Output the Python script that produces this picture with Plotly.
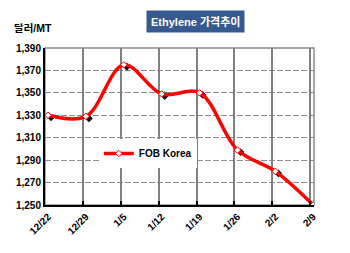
import plotly.graph_objects as go

categories = ["12/22", "12/29", "1/5", "1/12", "1/19", "1/26", "2/2", "2/9"]
fob_korea = [1330, 1329, 1375, 1349, 1350, 1299, 1280, 1250]
y_ticks = [1250, 1270, 1290, 1310, 1330, 1350, 1370, 1390]

FONT = "Liberation Sans, Arial, Noto Sans CJK KR"
xpos = list(range(len(categories)))
x_lo, x_hi = -0.08, len(categories) - 1 + 0.02
y_lo, y_hi = y_ticks[0], y_ticks[-1]
grid_pos = [x_lo + i for i in range(1, len(categories))]

fig = go.Figure()

# dummy traces for main and gridline axes
fig.add_trace(go.Scatter(x=[x_lo], y=[y_lo], mode="markers", marker=dict(opacity=0),
                         xaxis="x", yaxis="y", showlegend=False, hoverinfo="skip"))
fig.add_trace(go.Scatter(x=[x_lo], y=[y_lo], mode="markers", marker=dict(opacity=0),
                         xaxis="x2", yaxis="y", showlegend=False, hoverinfo="skip"))
# dark marker shadow series (slightly offset, under the line)
fig.add_trace(go.Scatter(
    x=xpos, y=fob_korea, mode="markers", showlegend=False,
    marker=dict(symbol="diamond", size=6, color="#111111"),
    xaxis="x3", yaxis="y3",
))
# red line series
fig.add_trace(go.Scatter(
    x=xpos, y=fob_korea, name="FOB Korea", mode="lines+markers",
    line=dict(color="#ff0000", width=3.5, shape="spline", smoothing=1.0),
    marker=dict(symbol="diamond", size=5, color="white", line=dict(color="#ff0000", width=1)),
    xaxis="x4", yaxis="y4", showlegend=True,
))

fig.update_layout(
    width=350, height=253,
    margin=dict(l=45, r=36, t=48, b=48),
    paper_bgcolor="white", plot_bgcolor="white",
    font=dict(family=FONT, size=10, color="black"),
    xaxis=dict(range=[x_lo, x_hi], tickvals=xpos, ticktext=categories, tickangle=-45,
               showgrid=False, zeroline=False, showline=True, linecolor="black", linewidth=2,
               ticks="", tickfont=dict(family=FONT, size=10, weight="bold")),
    xaxis2=dict(overlaying="x", range=[x_lo, x_hi], tickvals=grid_pos, showticklabels=False,
                showgrid=True, gridcolor="#808080", gridwidth=1.5, zeroline=False,
                ticks="inside", ticklen=4, tickcolor="black", tickwidth=1.5, anchor="y"),
    xaxis3=dict(overlaying="x", range=[x_lo - 0.08, x_hi - 0.08], visible=False, anchor="y3"),
    xaxis4=dict(overlaying="x", range=[x_lo, x_hi], visible=False, anchor="y4"),
    yaxis=dict(range=[y_lo, y_hi], tickvals=y_ticks, tickformat=",", showgrid=True,
               gridcolor="#8c8c8c", griddash="6px,2px", gridwidth=1, zeroline=False,
               showline=True, linecolor="black", linewidth=2, ticks="",
               tickfont=dict(family=FONT, size=10, weight="bold")),
    yaxis3=dict(overlaying="y", range=[y_lo + 1.8, y_hi + 1.8], visible=False, anchor="x3"),
    yaxis4=dict(overlaying="y", range=[y_lo, y_hi], visible=False, anchor="x4"),
    legend=dict(x=0.2, y=0.42, xanchor="left", yanchor="top", bgcolor="white",
                font=dict(family=FONT, size=10, weight="bold"), itemwidth=30),
    shapes=[dict(type="rect", xref="x domain", yref="y domain", x0=0, x1=1, y0=0, y1=1,
                 line=dict(color="#8a8a8a", width=1.5), layer="below")],
    annotations=[
        dict(text="<b>Ethylene 가격추이</b>", xref="paper", yref="paper", x=0.558, y=1.166,
             showarrow=False, bgcolor="#36598f", font=dict(color="white", size=11, family=FONT),
             borderpad=4, xanchor="center", yanchor="middle"),
        dict(text="<b>달러/MT</b>", xref="paper", yref="paper", x=-0.045, y=1.127,
             showarrow=False, font=dict(color="black", size=10.5, family=FONT),
             xanchor="center", yanchor="middle"),
    ],
)

fig.write_html("out.html")
